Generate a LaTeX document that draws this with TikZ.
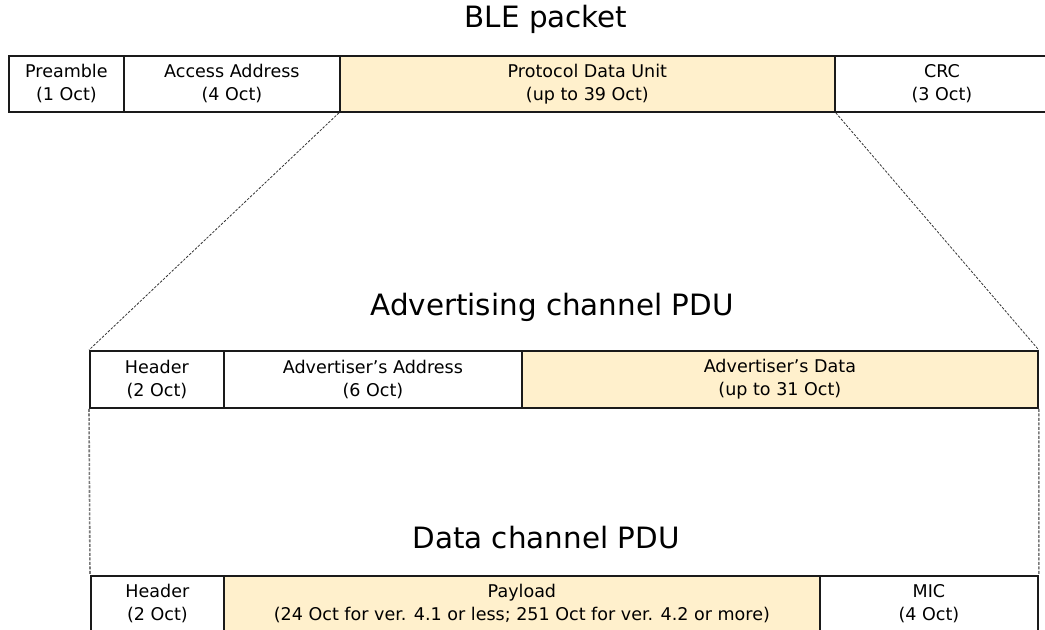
\documentclass[tikz,border=0pt]{standalone}
\usepackage{fontspec}
\setmainfont{DejaVu Sans}
\definecolor{pdufill}{HTML}{FFF0CC}
\definecolor{edge}{HTML}{1A1A1A}
\definecolor{dotgray}{HTML}{7A7A7A}
\tikzset{
  cell/.style={draw=edge, line width=1.8bp, align=center, inner sep=0pt,
    anchor=north west, font=\fontsize{17.6}{23}\selectfont, text=black},
  hot/.style={cell, fill=pdufill},
  title/.style={anchor=base, font=\fontsize{29.5}{34}\selectfont, inner sep=0pt},
  zoomline/.style={draw=black!80, line width=0.8bp, dash pattern=on 2.5bp off 1.5bp},
  vline/.style={draw=dotgray, line width=1.6bp, dash pattern=on 3bp off 1.5bp}
}
\begin{document}
\begin{tikzpicture}[x=1bp, y=-1bp]
\useasboundingbox (0,0) rectangle (1045,630);
% titles
\node[title] (t1) at (546,28) {BLE packet};
\node[title] (t2) at (552,315) {Advertising channel PDU};
\node[title] (t3) at (546,548) {Data channel PDU};
% BLE packet row
\node[cell, minimum width=115bp, minimum height=56bp] (pre) at (8,55) {Preamble\\(1 Oct)};
\node[cell, minimum width=216bp, minimum height=56bp] (aa) at (123,55) {Access Address\\(4 Oct)};
\node[hot, minimum width=495bp, minimum height=56bp] (pdu) at (339,55) {Protocol Data Unit\\(up to 39 Oct)};
\node[cell, minimum width=214bp, minimum height=56bp] (crc) at (834,55) {CRC\\(3 Oct)};
% Advertising channel PDU row
\node[cell, minimum width=134bp, minimum height=57bp] (ahdr) at (89,350) {Header\\(2 Oct)};
\node[cell, minimum width=298bp, minimum height=57bp] (aaddr) at (223,350) {Advertiser’s Address\\(6 Oct)};
\node[hot, minimum width=516bp, minimum height=57bp] (adata) at (521,350) {Advertiser’s Data\\(up to 31 Oct)};
% Data channel PDU row
\node[cell, minimum width=133bp, minimum height=56bp] (dhdr) at (90,575) {Header\\(2 Oct)};
\node[hot, minimum width=596bp, minimum height=56bp] (dpay) at (223,575) {Payload\\(24 Oct for ver. 4.1 or less; 251 Oct for ver. 4.2 or more)};
\node[cell, minimum width=218bp, minimum height=56bp] (dmic) at (819,575) {MIC\\(4 Oct)};
% connectors
\draw[zoomline] (pdu.south west) -- (ahdr.north west);
\draw[zoomline] (pdu.south east) -- (adata.north east);
\draw[vline] (ahdr.south west) -- (dhdr.north west);
\draw[vline] (adata.south east) -- (dmic.north east);
\end{tikzpicture}
\end{document}
